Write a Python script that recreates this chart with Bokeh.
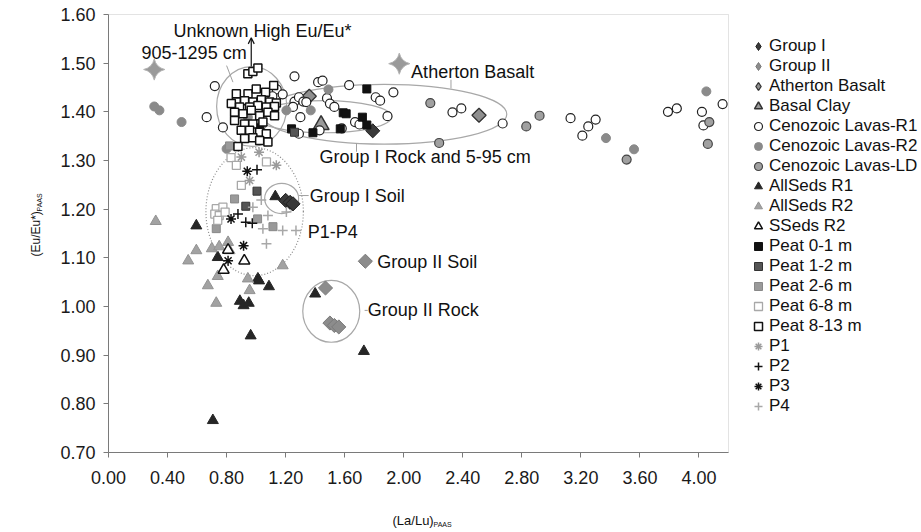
import math
from bokeh.plotting import figure
from bokeh.models import (Legend, LegendItem, Label, FixedTicker, Range1d,
                          NumeralTickFormatter, Arrow, OpenHead, BoxAnnotation)
from bokeh.core.properties import value
from bokeh.embed import file_html
from bokeh.resources import INLINE

FONT = "Liberation Sans"

# ---- sample data: (La/Lu)PAAS vs (Eu/Eu*)PAAS ----
group1_x = [1.79, 1.20, 1.23, 1.25]
group1_y = [1.361, 1.218, 1.214, 1.211]

group2_x = [1.74, 1.47, 1.50, 1.53, 1.56]
group2_y = [1.093, 1.038, 0.966, 0.961, 0.958]

atherton_x = [2.51, 1.36]
atherton_y = [1.393, 1.432]

basal_x = [1.44]
basal_y = [1.373]

lavas_r1_x = [0.72, 0.665, 0.775, 1.26, 1.14, 1.18, 1.11, 1.26, 1.29, 1.32, 1.25, 1.30,
              1.29, 1.42, 1.45, 1.48, 1.50, 1.53, 1.43, 1.63, 1.67, 1.70, 1.58, 1.81,
              1.84, 1.93, 1.89, 1.34, 2.33, 2.39, 2.67, 3.13, 3.25, 3.30, 3.21, 3.79,
              3.85, 4.16, 4.02, 4.03]
lavas_r1_y = [1.453, 1.389, 1.368, 1.473, 1.446, 1.436, 1.432, 1.421, 1.430, 1.421, 1.410, 1.389,
              1.355, 1.461, 1.464, 1.428, 1.417, 1.410, 1.362, 1.455, 1.379, 1.374, 1.366, 1.430,
              1.423, 1.440, 1.391, 1.420, 1.399, 1.407, 1.376, 1.387, 1.370, 1.384, 1.351, 1.400,
              1.407, 1.416, 1.400, 1.372]

lavas_r2_x = [0.31, 0.345, 0.495, 0.944, 1.205, 1.37, 1.49, 0.80, 3.37, 3.56, 4.05, 1.04]
lavas_r2_y = [1.411, 1.403, 1.379, 1.389, 1.403, 1.403, 1.446, 1.324, 1.346, 1.323, 1.442, 1.373]

lavas_ld_x = [2.18, 2.24, 2.83, 2.92, 3.51, 4.07, 4.06]
lavas_ld_y = [1.418, 1.336, 1.370, 1.392, 1.302, 1.379, 1.334]

allseds_r1_x = [1.13, 0.595, 0.74, 1.012, 1.087, 0.89, 0.915, 0.95, 0.963, 0.707, 1.73, 1.40, 1.02]
allseds_r1_y = [1.226, 1.166, 1.101, 1.057, 1.041, 1.011, 1.002, 1.007, 0.940, 0.766, 0.908, 1.026, 1.053]

allseds_r2_x = [0.32, 0.595, 0.70, 0.75, 0.81, 0.82, 0.54, 1.18, 0.944, 0.673, 0.956, 0.74, 0.73]
allseds_r2_y = [1.175, 1.115, 1.119, 1.123, 1.132, 1.115, 1.094, 1.084, 1.057, 1.043, 1.033, 1.062, 1.007]

sseds_r2_x = [0.81, 0.92, 0.78]
sseds_r2_y = [1.116, 1.094, 1.075]

peat_0_1_x = [1.75, 1.59, 1.61, 1.72, 1.75, 1.57, 1.385, 1.24, 1.024]
peat_0_1_y = [1.447, 1.398, 1.396, 1.389, 1.373, 1.365, 1.357, 1.365, 1.367]

peat_1_2_x = [1.26, 1.006, 0.93]
peat_1_2_y = [1.358, 1.237, 1.206]

peat_2_6_x = [0.82, 0.854, 0.73, 1.114, 1.01]
peat_2_6_y = [1.330, 1.221, 1.160, 1.164, 1.180]

peat_6_8_x = [0.83, 0.866, 1.07, 0.90, 0.73, 0.775, 0.72, 0.75, 0.74, 0.79]
peat_6_8_y = [1.306, 1.290, 1.297, 1.249, 1.201, 1.204, 1.190, 1.187, 1.177, 1.194]

peat_8_13_x = [0.944, 0.978, 1.012,
               0.866, 0.945, 1.001, 1.064, 1.119,
               0.866, 0.922, 0.978, 1.035, 1.092, 1.137,
               0.832, 0.888, 0.956, 1.012, 1.069, 1.125,
               0.854, 0.911, 0.967, 1.024, 1.080, 1.125,
               0.854, 0.922, 0.978, 1.046,
               0.899, 0.956, 1.024, 1.069,
               0.922, 0.978, 1.024, 1.080, 0.877]
peat_8_13_y = [1.478, 1.483, 1.490,
               1.437, 1.437, 1.447, 1.440, 1.454,
               1.420, 1.423, 1.420, 1.425, 1.420, 1.418,
               1.417, 1.410, 1.410, 1.413, 1.410, 1.411,
               1.399, 1.396, 1.403, 1.392, 1.399, 1.392,
               1.382, 1.375, 1.375, 1.379,
               1.362, 1.362, 1.358, 1.355,
               1.345, 1.347, 1.341, 1.338, 1.329]

p1_x = [0.90, 1.02, 1.137, 0.956]
p1_y = [1.307, 1.317, 1.290, 1.259]

p2_x = [1.006, 0.877, 0.93, 0.974]
p2_y = [1.281, 1.190, 1.173, 1.171]

p3_x = [0.94, 0.83, 0.915, 0.81]
p3_y = [1.278, 1.180, 1.125, 1.094]

p4_x = [1.035, 0.978, 1.08, 1.046, 1.07, 1.18, 1.27, 1.205]
p4_y = [1.219, 1.204, 1.187, 1.160, 1.129, 1.156, 1.156, 1.194]

# isolated high-Eu samples (not in the key)
high_x = [0.31, 1.97]
high_y = [1.487, 1.499]

# ---- outlines drawn around sample groups ----
ell_x = [0.97, 1.868, 1.461, 1.173, 1.509]
ell_y = [1.411, 1.395, 1.390, 1.222, 0.990]
ell_w = [0.475, 1.66, 0.915, 0.23, 0.386]
ell_h = [0.164, 0.123, 0.066, 0.062, 0.127]
p14_ell = dict(x=[0.99], y=[1.195], w=[0.66], h=[0.263])

# ---- annotation texts ----
note_text = ["Unknown High Eu/Eu*", "905-1295 cm", "Atherton Basalt",
             "Group I Rock and 5-95 cm", "Group I Soil", "P1-P4",
             "Group II Soil", "Group II Rock"]
note_x = [0.44, 0.224, 2.05, 1.43, 1.363, 1.35, 1.82, 1.756]
note_y = [1.567, 1.520, 1.481, 1.307, 1.228, 1.153, 1.091, 0.992]

lead_x0 = [0.80, 2.32, 1.68, 1.29, 1.735]
lead_y0 = [1.495, 1.466, 1.318, 1.228, 0.992]
lead_x1 = [0.843, 2.32, 1.68, 1.356, 1.756]
lead_y1 = [1.461, 1.448, 1.335, 1.228, 0.992]

x_ticks = [0.0, 0.4, 0.8, 1.2, 1.6, 2.0, 2.4, 2.8, 3.2, 3.6, 4.0]
y_ticks = [0.7, 0.8, 0.9, 1.0, 1.1, 1.2, 1.3, 1.4, 1.5, 1.6]
X_MIN, X_MAX = 0.0, 4.2
Y_MIN, Y_MAX = 0.7, 1.6

# ---- canvas layout: the frame fills the page, axes are pinned to the data box ----
W, H = 921, 532
BOX_L, BOX_R, BOX_T, BOX_B = 108, 728, 14, 452
sx = (BOX_R - BOX_L) / (X_MAX - X_MIN)
sy = (BOX_B - BOX_T) / (Y_MAX - Y_MIN)
x_range = Range1d(X_MIN - BOX_L / sx, X_MAX + (W - BOX_R) / sx)
y_range = Range1d(Y_MIN - (H - BOX_B) / sy, Y_MAX + BOX_T / sy)

p = figure(width=W, height=H, x_range=x_range, y_range=y_range,
           output_backend="svg", toolbar_location=None,
           min_border=0, min_border_left=0, min_border_right=0,
           min_border_top=0, min_border_bottom=0)
p.outline_line_color = None
p.xgrid.visible = False
p.ygrid.visible = False

p.add_layout(BoxAnnotation(left=X_MIN, right=X_MAX, bottom=Y_MIN, top=Y_MAX,
                           fill_color=None, fill_alpha=0, line_color="#a3a3a3",
                           line_width=1, level="underlay"))

for ax in (p.xaxis, p.yaxis):
    ax.axis_line_color = "#7a7a7a"
    ax.major_tick_line_color = "#7a7a7a"
    ax.major_tick_out = 5
    ax.major_tick_in = 0
    ax.minor_tick_out = 0
    ax.minor_tick_in = 0
    ax.major_label_text_font = FONT
    ax.major_label_text_font_size = "18px"
    ax.major_label_text_color = "#1a1a1a"
    ax.formatter = NumeralTickFormatter(format="0.00")
p.xaxis.ticker = FixedTicker(ticks=x_ticks)
p.yaxis.ticker = FixedTicker(ticks=y_ticks)
p.xaxis.fixed_location = Y_MIN
p.yaxis.fixed_location = X_MIN
p.xaxis.bounds = (X_MIN, X_MAX)
p.yaxis.bounds = (Y_MIN, Y_MAX)
p.xaxis.major_label_standoff = 13
p.yaxis.major_label_standoff = 8

# group outlines
p.ellipse(x=ell_x, y=ell_y, width=ell_w, height=ell_h,
          fill_color=None, line_color="#a8a8a8", line_width=1.2)
p.ellipse(x=p14_ell["x"], y=p14_ell["y"], width=p14_ell["w"], height=p14_ell["h"],
          fill_color=None, line_color="#8a8a8a", line_width=1.2, line_dash="1 2")
p.segment(x0=lead_x0, y0=lead_y0, x1=lead_x1, y1=lead_y1,
          line_color="#a0a0a0", line_width=1)

series = [
    ("Group I", group1_x, group1_y, dict(marker="diamond", size=16, fill_color="#3a3a3a", line_color="#222222")),
    ("Group II", group2_x, group2_y, dict(marker="diamond", size=16, fill_color="#8c8c8c", line_color="#7a7a7a")),
    ("Atherton Basalt", atherton_x, atherton_y, dict(marker="diamond", size=16, fill_color="#8f8f8f", line_color="#333333", line_width=1.3)),
    ("Basal Clay", basal_x, basal_y, dict(marker="triangle", size=16, fill_color="#9a9a9a", line_color="#333333", line_width=1.5)),
    ("Cenozoic Lavas-R1", lavas_r1_x, lavas_r1_y, dict(marker="circle", size=9, fill_color="white", line_color="#222222", line_width=1.2)),
    ("Cenozoic Lavas-R2", lavas_r2_x, lavas_r2_y, dict(marker="circle", size=9, fill_color="#8a8a8a", line_color="#8a8a8a")),
    ("Cenozoic Lavas-LD", lavas_ld_x, lavas_ld_y, dict(marker="circle", size=9, fill_color="#a0a0a0", line_color="#444444", line_width=1.2)),
    ("AllSeds R1", allseds_r1_x, allseds_r1_y, dict(marker="triangle", size=11, fill_color="#262626", line_color="#262626")),
    ("AllSeds R2", allseds_r2_x, allseds_r2_y, dict(marker="triangle", size=11, fill_color="#a2a2a2", line_color="#929292")),
    ("SSeds R2", sseds_r2_x, sseds_r2_y, dict(marker="triangle", size=11, fill_color="white", line_color="#111111", line_width=1.5)),
    ("Peat 0-1 m", peat_0_1_x, peat_0_1_y, dict(marker="square", size=8, fill_color="#111111", line_color="#111111")),
    ("Peat 1-2 m", peat_1_2_x, peat_1_2_y, dict(marker="square", size=8, fill_color="#555555", line_color="#333333")),
    ("Peat 2-6 m", peat_2_6_x, peat_2_6_y, dict(marker="square", size=8, fill_color="#9a9a9a", line_color="#888888")),
    ("Peat 6-8 m", peat_6_8_x, peat_6_8_y, dict(marker="square", size=8, fill_color="white", line_color="#a8a8a8", line_width=1.3)),
    ("Peat 8-13 m", peat_8_13_x, peat_8_13_y, dict(marker="square", size=8, fill_color="white", line_color="#111111", line_width=1.5)),
    ("P1", p1_x, p1_y, dict(marker="asterisk", size=10, line_color="#9a9a9a", line_width=1.5)),
    ("P2", p2_x, p2_y, dict(marker="cross", size=10, line_color="#111111", line_width=1.5)),
    ("P3", p3_x, p3_y, dict(marker="asterisk", size=10, line_color="#111111", line_width=1.5)),
    ("P4", p4_x, p4_y, dict(marker="cross", size=10, line_color="#a8a8a8", line_width=1.5)),
]

items = []
for label, xs, ys, style in series:
    if style["marker"] == "diamond":
        # key glyph is the slim diamond; on the chart it sits under an
        # equal-sided diamond (a square turned 45 degrees) of the same colours
        key = p.scatter(x=xs, y=ys, **dict(style, size=12))
        p.scatter(x=xs, y=ys, **dict(style, marker="square", angle=math.pi / 4, size=10))
        items.append(LegendItem(label=label, renderers=[key]))
    else:
        r = p.scatter(x=xs, y=ys, **style)
        items.append(LegendItem(label=label, renderers=[r]))

p.scatter(x=high_x, y=high_y, marker="square_pin", angle=math.pi / 4, size=15,
          fill_color="#9a9a9a", line_color="#b5b5b5")

# group annotations
p.text(x=note_x, y=note_y, text=note_text, text_font=value(FONT),
       text_font_size="18px", text_color="#111111",
       text_align="left", text_baseline="middle")
p.add_layout(Arrow(end=OpenHead(size=6, line_color="#111111", line_width=1.2),
                   x_start=0.967, y_start=1.493, x_end=0.967, y_end=1.552,
                   line_color="#111111", line_width=1.2))

# key, to the right of the data box
ROW = 20
KEY_TOP = 36
legend = Legend(items=items, location=(747, H - KEY_TOP - ROW * len(items)),
                orientation="vertical",
                glyph_width=22, glyph_height=ROW, label_height=ROW, spacing=0,
                padding=0, margin=0, label_standoff=0,
                label_text_font=FONT, label_text_font_size="17px",
                label_text_color="#111111",
                border_line_color=None, background_fill_alpha=0)
p.add_layout(legend, "center")

# axis titles with PAAS subscripts (screen units measured from the bottom-left)
def title_label(text, x, y, size, angle=0.0):
    return Label(x=x, y=y, x_units="screen", y_units="screen", text=text,
                 angle=angle, text_font=FONT, text_font_size=size,
                 text_color="#111111", text_align="left", text_baseline="middle")

p.add_layout(title_label("(La/Lu)", 392, H - 520, "13px"))
p.add_layout(title_label("PAAS", 433, H - 524, "7px"))
p.add_layout(title_label("(Eu/Eu*)", 35, H - 256, "12px", math.pi / 2))
p.add_layout(title_label("PAAS", 39, H - 211, "7px", math.pi / 2))

open("out.html", "w").write(file_html(p, INLINE))
